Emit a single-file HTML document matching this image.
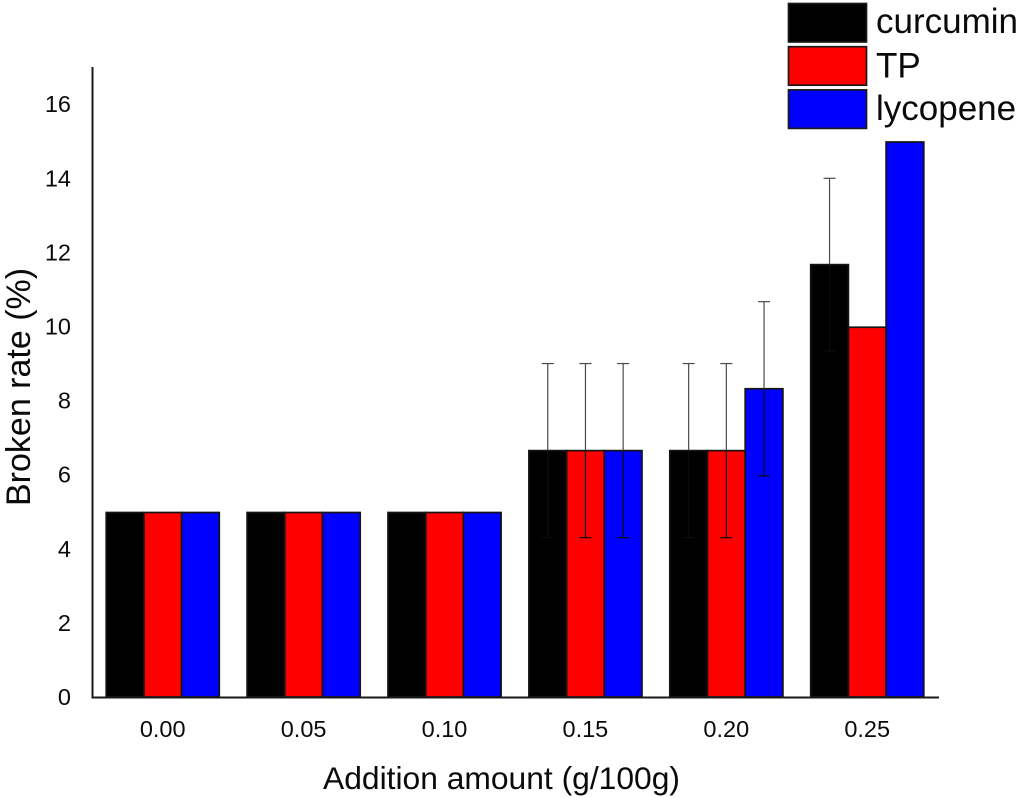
<!DOCTYPE html>
<html lang="en">
<head>
<meta charset="utf-8">
<title>Broken rate chart</title>
<style>
html,body{margin:0;padding:0;background:#fff;}
svg{display:block;}
text{font-family:"Liberation Sans",sans-serif;fill:#0a0a0a;}
</style>
</head>
<body>
<svg id="chart" width="1021" height="798" viewBox="0 0 1021 798" xmlns="http://www.w3.org/2000/svg"></svg>
<script>
const categories = ['0.00', '0.05', '0.10', '0.15', '0.20', '0.25'];
const curcuminValues = [4.98, 4.98, 4.98, 6.65, 6.65, 11.67];
const tpValues = [4.98, 4.98, 4.98, 6.65, 6.65, 9.98];
const lycopeneValues = [4.98, 4.98, 4.98, 6.65, 8.32, 14.98];
const curcuminErrors = [0, 0, 0, 2.35, 2.35, 2.33];
const tpErrors = [0, 0, 0, 2.35, 2.35, 0];
const lycopeneErrors = [0, 0, 0, 2.35, 2.35, 0];
const yTicks = [0, 2, 4, 6, 8, 10, 12, 14, 16];
const seriesNames = ['curcumin', 'TP', 'lycopene'];
const seriesColors = ['#000000', '#ff0000', '#0000ff'];

const NS = 'http://www.w3.org/2000/svg';
const svg = document.getElementById('chart');
const allValues = [curcuminValues, tpValues, lycopeneValues];
const allErrors = [curcuminErrors, tpErrors, lycopeneErrors];
const legendBaselines = [33, 77.5, 120];

function yScale(v) { return 697 - 37.05 * v; }
function groupCenter(i) { return 162.7 + 140.9 * i; }
function barLeft(i, s) { return groupCenter(i) - 56.5 + 37.7 * s; }
const barWidth = 37.7;

function make(tag, attrs, parent) {
  const el = document.createElementNS(NS, tag);
  for (const k in attrs) el.setAttribute(k, attrs[k]);
  (parent || svg).appendChild(el);
  return el;
}

// bars
categories.forEach((cat, i) => {
  seriesNames.forEach((name, s) => {
    const v = allValues[s][i];
    const r = make('rect', {
      x: barLeft(i, s), y: yScale(v), width: barWidth, height: yScale(0) - yScale(v),
      fill: seriesColors[s], stroke: '#141414', 'stroke-width': 1.7
    });
    
    
  });
});

// error bars
categories.forEach((cat, i) => {
  seriesNames.forEach((name, s) => {
    const e = allErrors[s][i];
    if (!e) return;
    const v = allValues[s][i];
    const cx = barLeft(i, s) + barWidth / 2;
    const g = make('g', { fill: 'none', 'stroke-width': 1.2 });
    
    
    make('line', { x1: cx, x2: cx, y1: yScale(v + e), y2: yScale(v), stroke: '#4a4a4a' }, g);
    make('line', { x1: cx - 6, x2: cx + 6, y1: yScale(v + e), y2: yScale(v + e), stroke: '#4a4a4a' }, g);
    make('line', { x1: cx, x2: cx, y1: yScale(v), y2: yScale(v - e), stroke: '#0c0c0c' }, g);
    make('line', { x1: cx - 6, x2: cx + 6, y1: yScale(v - e), y2: yScale(v - e), stroke: '#0c0c0c' }, g);
  });
});

// axes
const yAxis = make('line', { x1: 92.5, x2: 92.5, y1: 67, y2: 698, stroke: '#1a1a1a', 'stroke-width': 2 });


const xAxis = make('line', { x1: 91.5, x2: 939, y1: 697.5, y2: 697.5, stroke: '#1a1a1a', 'stroke-width': 2 });



// y tick labels
yTicks.forEach(t => {
  const el = make('text', { x: 71, y: yScale(t) + 8, 'text-anchor': 'end', 'font-size': 23.5 });
  el.textContent = String(t);
  
  
});

// x tick labels
categories.forEach((cat, i) => {
  const el = make('text', { x: groupCenter(i), y: 737, 'text-anchor': 'middle', 'font-size': 23.5 });
  el.textContent = cat;
  
  
});

// axis titles
const xTitle = make('text', { x: 323, y: 789, 'font-size': 31.8, textLength: 357, lengthAdjust: 'spacingAndGlyphs' });
xTitle.textContent = 'Addition amount (g/100g)';



const yTitle = make('text', { x: 0, y: 0, 'font-size': 34, transform: 'translate(30 506) rotate(-90)' });
yTitle.textContent = 'Broken rate (%)';



// legend
seriesNames.forEach((name, s) => {
  const g = make('g', {});
  
  
  make('rect', { x: 788.5, y: 3.5 + 43.2 * s, width: 78, height: 38.5, fill: seriesColors[s], stroke: '#1a1a1a', 'stroke-width': 1.7 }, g);
  const t = make('text', { x: 876, y: legendBaselines[s], 'font-size': 35 }, g);
  t.textContent = name;
});
</script>
</body>
</html>
